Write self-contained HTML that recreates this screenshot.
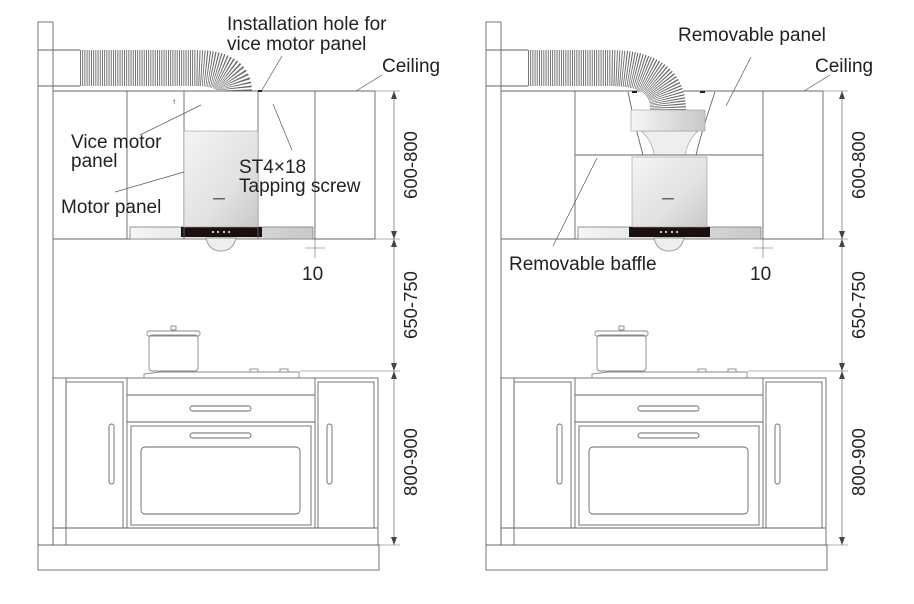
<!DOCTYPE html>
<html><head><meta charset="utf-8"><style>
html,body{margin:0;padding:0;background:#fff;width:914px;height:604px;overflow:hidden}
text{font-family:"Liberation Sans",sans-serif;fill:#222}
</style></head><body>
<svg width="914" height="604" viewBox="0 0 914 604" xmlns="http://www.w3.org/2000/svg">
<defs>
<linearGradient id="hg" x1="0" y1="0" x2="1" y2="1"><stop offset="0" stop-color="#f4f4f4"/><stop offset="0.6" stop-color="#e2e2e2"/><stop offset="1" stop-color="#c9c9c9"/></linearGradient>
<linearGradient id="bg" x1="0" y1="0" x2="1" y2="0"><stop offset="0" stop-color="#f6f6f6"/><stop offset="1" stop-color="#c8c8c8"/></linearGradient>
<g id="base" fill="none" stroke="#666" stroke-width="0.9">
  <rect x="38" y="22" width="15" height="523"/>
  <line x1="38" y1="50" x2="80" y2="50"/><line x1="38" y1="86" x2="80" y2="86"/>
  <line x1="53" y1="91" x2="375" y2="91"/>
  <line x1="53" y1="239" x2="375" y2="239"/>
  <line x1="375" y1="91" x2="375" y2="239"/>
  <line x1="127" y1="91" x2="127" y2="239"/>
  <line x1="315" y1="91" x2="315" y2="239"/>
  <line x1="394" y1="91" x2="394" y2="545" stroke-width="0.7"/>
  <line x1="375" y1="91" x2="400" y2="91" stroke-width="0.5"/>
  <line x1="375" y1="239" x2="400" y2="239" stroke-width="0.5"/>
  <line x1="300" y1="371" x2="400" y2="371" stroke-width="0.5"/>
  <line x1="378" y1="545" x2="400" y2="545" stroke-width="0.5"/>
  <g fill="#444" stroke="none">
    <path d="M391,99 L394,91 L397,99Z"/><path d="M391,231 L394,239 L397,231Z"/>
    <path d="M391,247 L394,239 L397,247Z"/><path d="M391,363 L394,371 L397,363Z"/>
    <path d="M391,379 L394,371 L397,379Z"/><path d="M391,537 L394,545 L397,537Z"/>
  </g>
  <rect x="130" y="227" width="183" height="12" fill="url(#bg)" stroke="#888"/>
  <rect x="181" y="227" width="81" height="10" fill="#1a1010" stroke="none"/>
  <g fill="#ddd" stroke="none"><circle cx="213" cy="232" r="1.1"/><circle cx="218" cy="232" r="1.1"/><circle cx="224" cy="232" r="1.1"/><circle cx="229" cy="232" r="1.1"/></g>
  <path d="M206,238 Q209,251 221,251 Q233,251 236,238Z" fill="#eee" stroke="#999"/>
  <line x1="315" y1="239" x2="315" y2="258" stroke-width="0.6"/>
  <line x1="305" y1="248" x2="325" y2="248" stroke-width="0.6"/>
  <rect x="38" y="545" width="341" height="25"/>
  <rect x="53" y="378" width="325" height="167"/>
  <line x1="66" y1="378" x2="66" y2="545"/>
  <line x1="53" y1="528" x2="378" y2="528"/>
  <rect x="66" y="382" width="57" height="146"/>
  <rect x="318" y="382" width="56" height="146"/>
  <line x1="127" y1="378" x2="127" y2="528"/><line x1="315" y1="378" x2="315" y2="528"/>
  <line x1="127" y1="395" x2="315" y2="395"/><line x1="127" y1="422" x2="315" y2="422"/>
  <rect x="131" y="426" width="180" height="99"/>
  <rect x="141" y="447" width="159" height="67" rx="4"/>
  <rect x="190" y="406" width="61" height="5" rx="2.5"/>
  <rect x="190" y="433" width="61" height="5" rx="2.5"/>
  <rect x="109" y="424" width="5" height="60" rx="2.5"/>
  <rect x="327" y="424" width="5" height="60" rx="2.5"/>
  <path d="M144,378 L144,374 L160,372 L299,372 L299,378" stroke="#888"/>
  <rect x="149" y="335" width="49" height="36" rx="3" stroke="#888"/>
  <rect x="147" y="331" width="53" height="5" rx="2" stroke="#888"/>
  <rect x="171" y="326" width="5" height="4" stroke="#888"/>
  <rect x="250" y="369" width="8" height="3" stroke="#888"/><rect x="280" y="369" width="8" height="3" stroke="#888"/>
</g>
</defs>

<use href="#base"/>
<use href="#base" transform="translate(448,0)"/>

<g fill="none" stroke="#666" stroke-width="0.9">
  <line x1="184" y1="91" x2="184" y2="239"/><line x1="258" y1="91" x2="258" y2="239"/>
</g>
<rect x="184" y="131" width="74" height="96" fill="url(#hg)" stroke="#999" stroke-width="0.6"/>
<rect x="213" y="198" width="12" height="1.5" fill="#666"/>
<path d="M80,68 L195,68 Q234,68 234,91" fill="none" stroke="#fff" stroke-width="36"/>
<path d="M80,68 L195,68 Q234,68 234,91" fill="none" stroke="#666" stroke-width="36" stroke-dasharray="0.9 1.3"/>
<line x1="258" y1="91" x2="262" y2="91" stroke="#222" stroke-width="2"/>

<g fill="none" stroke="#666" stroke-width="0.9">
  <path d="M628,92 Q636,130 643,155"/><path d="M715,92 Q702,130 696,155"/>
</g>
<path d="M641,131 Q652,140 654,155 L685,155 Q688,140 698,131Z" fill="#eee" stroke="#999" stroke-width="0.6"/>
<rect x="631" y="110" width="74" height="21" fill="url(#bg)" stroke="#999" stroke-width="0.6"/>
<line x1="575" y1="155" x2="763" y2="155" stroke="#666" stroke-width="0.9"/>
<rect x="632" y="157" width="75" height="70" fill="url(#hg)" stroke="#999" stroke-width="0.6"/>
<rect x="662" y="198" width="12" height="1.5" fill="#666"/>
<path d="M528,68 L610,68 Q668,68 668,110" fill="none" stroke="#fff" stroke-width="36"/>
<path d="M528,68 L610,68 Q668,68 668,110" fill="none" stroke="#666" stroke-width="36" stroke-dasharray="0.9 1.3"/>
<line x1="632" y1="92" x2="637" y2="92" stroke="#222" stroke-width="2"/>
<line x1="700" y1="92" x2="705" y2="92" stroke="#222" stroke-width="2"/>

<g stroke="#555" stroke-width="0.7">
  <line x1="262" y1="90" x2="282" y2="56"/>
  <line x1="356" y1="91" x2="382" y2="75"/>
  <line x1="140" y1="135" x2="201" y2="105"/>
  <line x1="115" y1="192" x2="184" y2="172"/>
  <line x1="292" y1="150" x2="273" y2="104"/>
  <line x1="804" y1="91" x2="830" y2="75"/>
  <line x1="726" y1="106" x2="751" y2="57"/>
  <line x1="553" y1="246" x2="597" y2="158"/>
</g>
<text x="172" y="104" font-size="8">↑</text>

<g font-size="19">
<text x="227" y="30">Installation hole for</text>
<text x="227" y="50">vice motor panel</text>
<text x="382" y="72">Ceiling</text>
<text x="71" y="148">Vice motor</text>
<text x="71" y="167">panel</text>
<text x="61" y="213">Motor panel</text>
<text x="239" y="173">ST4×18</text>
<text x="239" y="192">Tapping screw</text>
<text x="302" y="280">10</text>
<text x="678" y="41">Removable  panel</text>
<text x="815" y="72">Ceiling</text>
<text x="509" y="270">Removable baffle</text>
<text x="750" y="280">10</text>
</g>
<g font-size="18.5" text-anchor="middle">
<text transform="translate(417,165) rotate(-90)">600-800</text>
<text transform="translate(417,305) rotate(-90)">650-750</text>
<text transform="translate(417,462) rotate(-90)">800-900</text>
<text transform="translate(865,165) rotate(-90)">600-800</text>
<text transform="translate(865,305) rotate(-90)">650-750</text>
<text transform="translate(865,462) rotate(-90)">800-900</text>
</g>
</svg>
</body></html>
